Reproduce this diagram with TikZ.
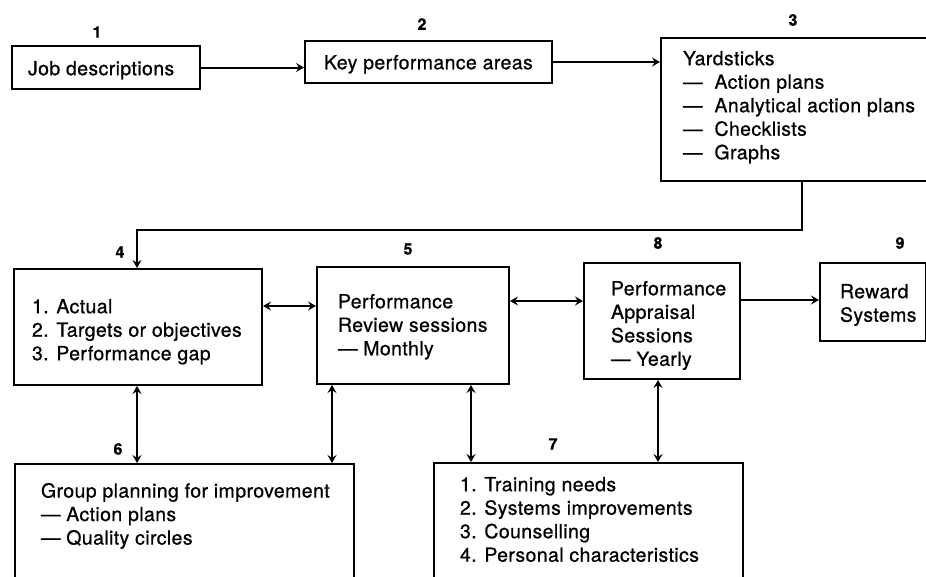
\documentclass[tikz,border=0pt]{standalone}
\usepackage{fontspec}
\setmainfont{TeX Gyre Heros}[LetterSpace=2,FakeBold=0.7]
\usetikzlibrary{arrows.meta}
\newcommand{\bxt}[5]{\parbox[c][#2][t]{#1}{\leftskip=#3\rightskip=0pt plus 1fil\relax\parfillskip=0pt\hyphenpenalty=10000\exhyphenpenalty=10000\parindent=0pt\baselineskip=23.5pt\vspace*{#4}#5\par}}
\tikzset{
  bx/.style={draw, line width=2pt, inner sep=0pt, anchor=north west, font=\fontsize{19.5pt}{23.5pt}\selectfont},
  num/.style={font=\bfseries\fontsize{16pt}{16pt}\selectfont, inner sep=0pt},
  conn/.style={line width=2pt}
}
\begin{document}
\begin{tikzpicture}[x=1pt,y=-1pt,>={Stealth[length=8pt,width=9pt,inset=3pt]}]
\clip (0,0) rectangle (926,576);
% boxes
\node[bx] (b1) at (11,45) {\bxt{188pt}{43pt}{16pt}{15pt}{Job descriptions}};
\node[bx] (b2) at (304,40) {\bxt{247pt}{42pt}{19pt}{14pt}{Key performance areas}};
\node[bx] (b3) at (660,37) {\bxt{290pt}{143pt}{22pt}{13pt}{Yardsticks\\—\hspace{12pt}Action plans\\—\hspace{12pt}Analytical action plans\\—\hspace{12pt}Checklists\\—\hspace{12pt}Graphs}};
\node[bx] (b4) at (13,268) {\bxt{248pt}{116pt}{18pt}{30pt}{1. Actual\\2. Targets or objectives\\3. Performance gap}};
\node[bx] (b5) at (316,266) {\bxt{192pt}{117pt}{21pt}{27pt}{Performance\\Review sessions\\— Monthly}};
\node[bx] (b8) at (583,262) {\bxt{156pt}{116pt}{27pt}{18pt}{Performance\\Appraisal\\Sessions\\— Yearly}};
\node[bx] (b9) at (819,262) {\bxt{106pt}{78pt}{20pt}{21pt}{Reward\\Systems}};
\node[bx] (b6) at (14,463) {\bxt{339pt}{125pt}{26pt}{19pt}{Group planning for improvement\\— Action plans\\— Quality circles}};
\node[bx] (b7) at (433,462) {\bxt{309pt}{125pt}{26pt}{14pt}{1. Training needs\\2. Systems improvements\\3. Counselling\\4. Personal characteristics}};
% numbers
\node[num] (n1) at (97,32) {1};
\node[num] (n2) at (422,24) {2};
\node[num] (n3) at (793,20) {3};
\node[num] (n4) at (120,252) {4};
\node[num] (n5) at (408,249) {5};
\node[num] (n8) at (658,243) {8};
\node[num] (n9) at (900,243) {9};
\node[num] (n6) at (118,449) {6};
\node[num] (n7) at (553,444) {7};
% helper coordinates
\coordinate (ya) at (0,306);
\coordinate (yb) at (0,301);
\coordinate (yc) at (0,300);
\coordinate (xa) at (137,0);
\coordinate (xb) at (332,0);
\coordinate (xc) at (471,0);
\coordinate (xd) at (658,0);
\coordinate (c3) at (802,230);
% connectors
\draw[conn,->] (b1.east) -- (b1.east -| b2.west);
\draw[conn,->] (b2.east) -- (b2.east -| b3.west);
\draw[conn,->] (b3.south -| c3) -- (c3) -| (b4.north -| xa);
\draw[conn,<->] (b4.east |- ya) -- (b5.west |- ya);
\draw[conn,<->] (b5.east |- yb) -- (b8.west |- yb);
\draw[conn,->] (b8.east |- yc) -- (b9.west |- yc);
\draw[conn,<->] (b4.south -| xa) -- (b6.north -| xa);
\draw[conn,<->] (b5.south -| xb) -- (b6.north -| xb);
\draw[conn,<->] (b5.south -| xc) -- (b7.north -| xc);
\draw[conn,<->] (b8.south -| xd) -- (b7.north -| xd);
\end{tikzpicture}
\end{document}
